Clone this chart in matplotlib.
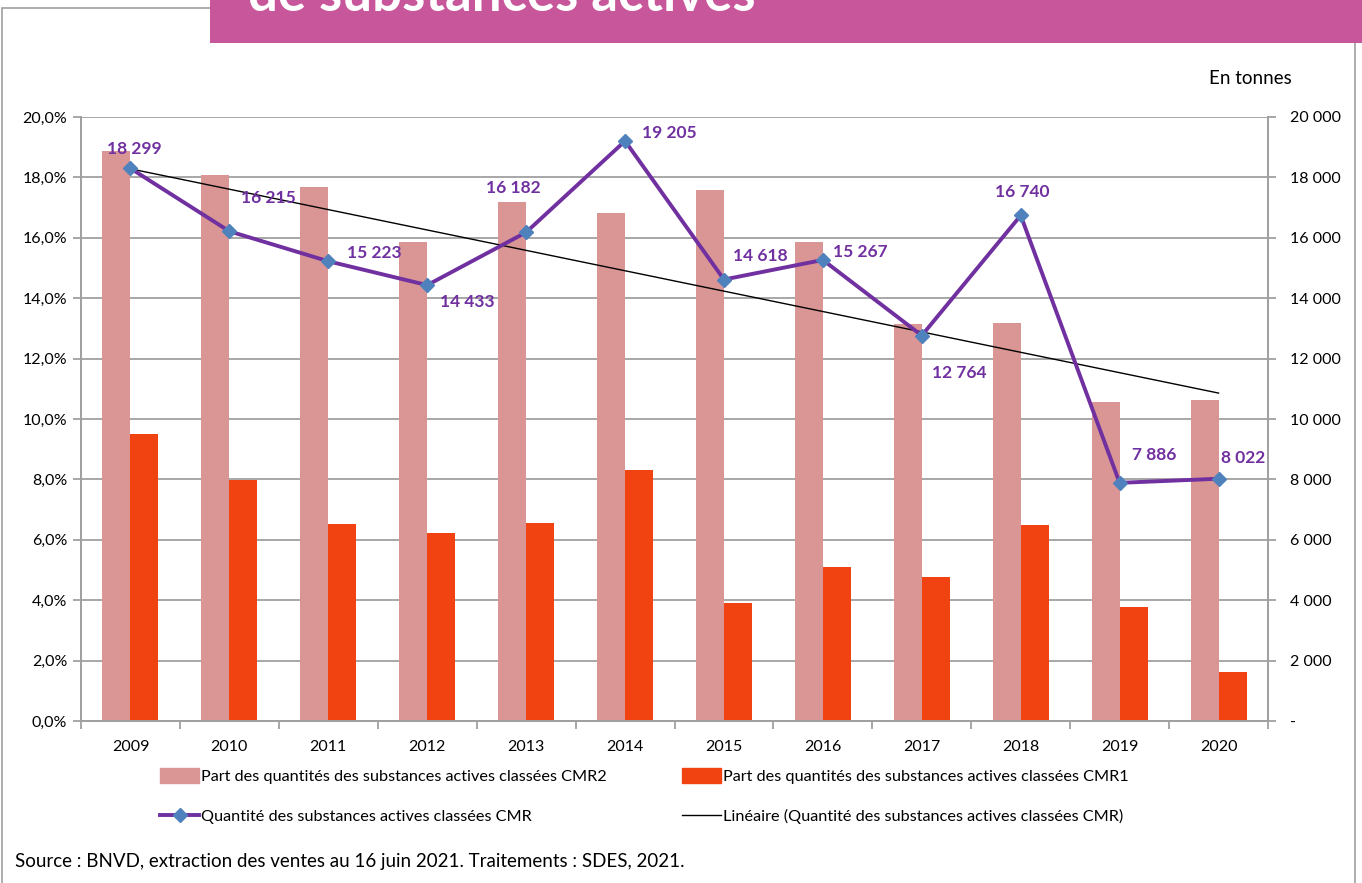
import numpy as np
import matplotlib
matplotlib.use('Agg')
import matplotlib.pyplot as plt
from matplotlib.patches import Rectangle
from matplotlib.lines import Line2D
from matplotlib.ticker import FuncFormatter

plt.rcParams['font.family'] = ['Lato', 'DejaVu Sans']

years = ['2009', '2010', '2011', '2012', '2013', '2014', '2015', '2016', '2017', '2018', '2019', '2020']
part_cmr2 = [18.87, 18.08, 17.68, 15.86, 17.19, 16.82, 17.58, 15.86, 13.15, 13.18, 10.56, 10.63]
part_cmr1 = [9.50, 7.98, 6.52, 6.23, 6.56, 8.31, 3.91, 5.10, 4.77, 6.49, 3.77, 1.62]
quantite_cmr = [18299, 16215, 15223, 14433, 16182, 19205, 14618, 15267, 12764, 16740, 7886, 8022]

# label offsets (points) for each data label
label_offsets = [(3, 14), (28, 24), (33, 6), (29, -12), (-9, 32), (32, 6),
                 (26, 17), (27, 6), (27, -27), (1, 17), (25, 20), (18, 15)]

PINK = '#D99694'
ORANGE = '#F14312'
PURPLE = '#7030A0'
BLUE = '#4F81BD'
GRID = '#A0A0A0'

fig = plt.figure(figsize=(13.62, 8.83), dpi=100)

# frame and banner
fig.patches.append(Rectangle((2 / 1362, -0.01), 1353 / 1362, 1 - 8 / 883 + 0.01,
                             transform=fig.transFigure, fill=False, edgecolor='#A0A0A0', lw=1.2))
fig.patches.append(Rectangle((210 / 1362, 1 - 43 / 883), 1152 / 1362, 43 / 883 + 0.01,
                             transform=fig.transFigure, facecolor='#C8569A', edgecolor='none', zorder=2))
fig.text(248 / 1362, 1 - 11 / 883, 'de substances actives', color='white', fontsize=38,
         fontweight='bold', va='baseline', ha='left', zorder=3)

ax = fig.add_axes([81 / 1362, 1 - 721 / 883, 1187 / 1362, 604 / 883])
ax2 = ax.twinx()

x = np.arange(len(years))
w = 0.283
ax.bar(x - w / 2, part_cmr2, w, color=PINK, zorder=2)
ax.bar(x + w / 2, part_cmr1, w, color=ORANGE, zorder=2)

ax.set_xlim(-0.5, len(years) - 0.5)
ax.set_ylim(0, 20)
ax.set_yticks(np.arange(0, 21, 2))
ax.yaxis.set_major_formatter(FuncFormatter(lambda v, p: ('%.1f%%' % v).replace('.', ',')))
ax.grid(axis='y', color=GRID, lw=1.3, zorder=0)
ax.set_axisbelow(True)
ax.set_xticks(x)
ax.set_xticklabels(years)
ax.set_xticks(np.arange(-0.5, len(years), 1), minor=True)
ax.tick_params(axis='x', which='major', length=0, pad=14, labelsize=11.5)
ax.tick_params(axis='x', which='minor', length=6, color=GRID, width=1.3)
ax.tick_params(axis='y', length=6, color=GRID, width=1.3, labelsize=11.5, pad=4)

for a in (ax, ax2):
    for s in a.spines.values():
        s.set_color(GRID)
        s.set_linewidth(1.3)
    a.spines['top'].set_visible(False)

# quantity line + trend
coef = np.polyfit(x, quantite_cmr, 1)
ax2.plot(x, np.polyval(coef, x), color='black', lw=1.0, zorder=3)
ax2.plot(x, quantite_cmr, color=PURPLE, lw=2.8, marker='D', markersize=7.5,
         markerfacecolor=BLUE, markeredgecolor=BLUE, zorder=4)
ax2.set_ylim(0, 20000)
ax2.set_yticks(np.arange(0, 20001, 2000))
ax2.yaxis.set_major_formatter(FuncFormatter(
    lambda v, p: '-' if v == 0 else '{:,.0f}'.format(v).replace(',', ' ')))
ax2.tick_params(axis='y', length=6, color=GRID, width=1.3, labelsize=11.5, pad=10)

for xi, val, off in zip(x, quantite_cmr, label_offsets):
    ax2.annotate('{:,}'.format(val).replace(',', ' '), (xi, val), xytext=off,
                 textcoords='offset points', ha='center', va='center',
                 color=PURPLE, fontsize=12.5, fontweight='bold', zorder=5)

fig.text(1292 / 1362, 1 - 78 / 883, 'En tonnes', ha='right', va='center', fontsize=13.5)

handles = [
    Rectangle((0, 0), 1, 1, color=PINK),
    Line2D([], [], color=PURPLE, lw=2.8, marker='D', markersize=7.5,
           markerfacecolor=BLUE, markeredgecolor=BLUE),
    Rectangle((0, 0), 1, 1, color=ORANGE),
    Line2D([], [], color='black', lw=1.0),
]
labels = [
    'Part des quantités des substances actives classées CMR2',
    'Quantité des substances actives classées CMR',
    'Part des quantités des substances actives classées CMR1',
    'Linéaire (Quantité des substances actives classées CMR)',
]
fig.legend(handles, labels, ncol=2, loc='upper left', bbox_to_anchor=(160 / 1362, 1 - 768 / 883),
           frameon=False, fontsize=11.7, handlelength=2.4, handleheight=1.0, handletextpad=0.15,
           columnspacing=4.6, labelspacing=1.5, borderaxespad=0, borderpad=0)

fig.text(15 / 1362, 1 - 862 / 883,
         'Source : BNVD, extraction des ventes au 16 juin 2021. Traitements : SDES, 2021.',
         ha='left', va='center', fontsize=13.5)

fig.savefig('out.png', dpi=100)
